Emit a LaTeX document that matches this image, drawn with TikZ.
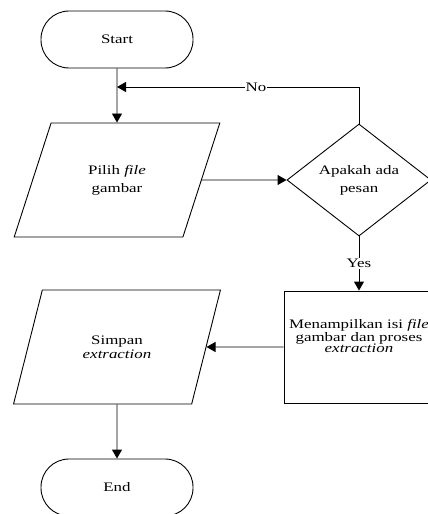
\documentclass[tikz,border=0pt]{standalone}
\usepackage{fontspec}
\setmainfont{Liberation Serif}[FakeStretch=1.3]
\usepackage{tikz}
\usetikzlibrary{shapes.geometric, arrows.meta, positioning}

\tikzset{
  flowline/.style={line width=0.9pt},
  termbox/.style={draw, flowline, rectangle, rounded corners=28pt, minimum width=152pt, minimum height=57pt},
  iobox/.style={draw, flowline, trapezium, trapezium left angle=63.8, trapezium right angle=116.2,
    trapezium stretches=true, minimum width=207pt, minimum height=114pt, align=center},
  decbox/.style={draw, flowline, diamond, aspect=1.3, inner sep=0pt, minimum width=144pt, minimum height=112pt, align=center},
  procbox/.style={draw, flowline, rectangle, minimum width=150pt, minimum height=112pt},
  flowarrow/.style={flowline, -{Triangle[length=9pt,width=10pt]}},
  flowlabel/.style={fill=white, inner sep=1pt}
}

\begin{document}
\begin{tikzpicture}[x=1pt,y=-1pt,font=\fontsize{13}{14}\selectfont]
  \path[use as bounding box] (0,0) rectangle (428,514);
  \clip (0,0) rectangle (428,514);
  \node[termbox] (start) at (117,39.5) {Start};
  \node[iobox] (pilih) at (117,180) {Pilih \textit{file}\\[4pt]gambar};
  \node[decbox] (tanya) at (359,180) {Apakah ada\\[4pt]pesan};
  \node[procbox, label={[name=prosesteks, align=center, font=\fontsize{13}{11.7}\selectfont, yshift=11pt]center:{Menampilkan isi \textit{file}\\gambar dan proses\\\textit{extraction}}}] (proses) at (359,347) {};
  \node[iobox] (simpan) at (117,347) {Simpan\\\textit{extraction}};
  \node[termbox] (end) at (117,487.5) {End};
  \coordinate (gabung) at (117,87);

  \draw[flowarrow] (start) -- (pilih);
  \draw[flowarrow] (pilih) -- (tanya);
  \draw[flowarrow] (tanya.north) |- node[flowlabel, pos=0.713] (nolabel) {No} (gabung);
  \draw[flowarrow] (tanya) -- node[flowlabel] (yeslabel) {Yes} (proses);
  \draw[flowarrow] (proses) -- (simpan);
  \draw[flowarrow] (simpan) -- (end);
\end{tikzpicture}
\end{document}
